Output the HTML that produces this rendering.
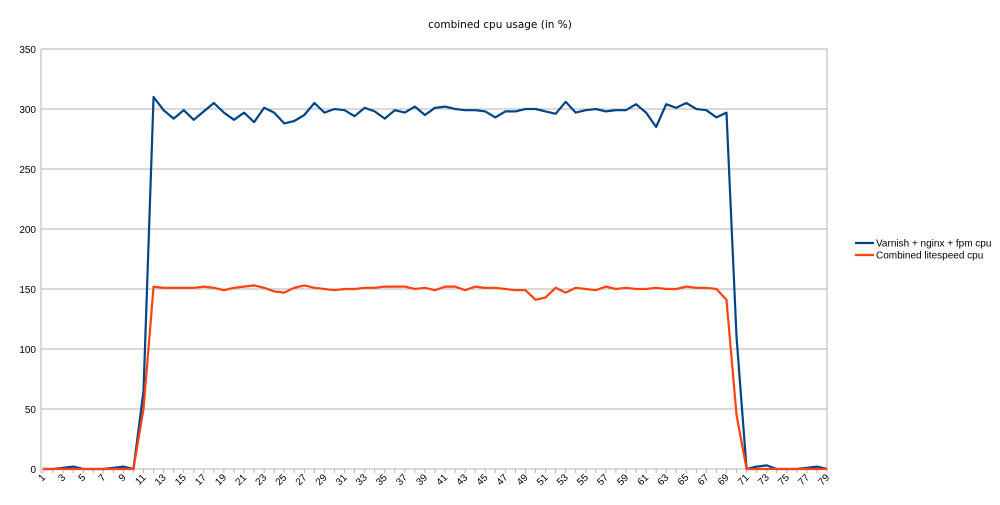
<!DOCTYPE html>
<html><head><meta charset="utf-8"><style>
body{margin:0;background:#fff;font-family:"Liberation Sans","DejaVu Sans",sans-serif}
</style></head><body>
<svg id="c" width="1000" height="500" xmlns="http://www.w3.org/2000/svg" font-family="Liberation Sans, DejaVu Sans, sans-serif">
<rect width="1000" height="500" fill="#fff"/>
<text x="500" y="28" font-size="10.5" font-family="DejaVu Sans, sans-serif" text-anchor="middle" fill="#000">combined cpu usage (in %)</text>
<g id="grid"></g>
<g id="lab"></g>
<polyline id="blue" fill="none" stroke="#004586" stroke-width="2.2" stroke-linejoin="round"/>
<polyline id="red" fill="none" stroke="#ff420e" stroke-width="2.2" stroke-linejoin="round"/>
<line x1="855" y1="243" x2="874" y2="243" stroke="#004586" stroke-width="2.2"/>
<text x="876" y="246.5" font-size="10">Varnish + nginx + fpm cpu</text>
<line x1="855" y1="255" x2="874" y2="255" stroke="#ff420e" stroke-width="2.2"/>
<text x="876" y="258.5" font-size="10">Combined litespeed cpu</text>
</svg>
<script>
var B=[0,0,1,2,0,0,0,1,2,0,65,310,299,292,299,291,298,305,297,291,297,289,301,297,288,290,295,305,297,300,299,294,301,298,292,299,297,302,295,301,302,300,299,299,298,293,298,298,300,300,298,296,306,297,299,300,298,299,299,304,297,285,304,301,305,300,299,293,297,110,0,2,3,0,0,0,1,2,0];
var R=[0,0,0,0,0,0,0,0,0,0,50,152,151,151,151,151,152,151,149,151,152,153,151,148,147,151,153,151,150,149,150,150,151,151,152,152,152,150,151,149,152,152,149,152,151,151,150,149,149,141,143,151,147,151,150,149,152,150,151,150,150,151,150,150,152,151,151,150,141,45,0,0,0,0,0,0,0,0,0];
var x0=43,dx=(827-43)/78;function X(i){return x0+i*dx}function Y(v){return 469-v*1.2}
var ns="http://www.w3.org/2000/svg",g=document.getElementById('grid'),l=document.getElementById('lab');
function el(t,a,p){var e=document.createElementNS(ns,t);for(var k in a)e.setAttribute(k,a[k]);p.appendChild(e);return e}
for(var v=0;v<=350;v+=50){var y=Y(v);el('line',{x1:41,x2:827,y1:y,y2:y,stroke:'#b3b3b3','stroke-width':1},g);var t=el('text',{x:36,y:y+4,'font-size':10,'text-anchor':'end'},l);t.textContent=v;}
el('line',{x1:41,x2:41,y1:49,y2:473,stroke:'#b3b3b3'},g);
el('line',{x1:827,x2:827,y1:49,y2:469,stroke:'#b3b3b3'},g);
for(var i=0;i<79;i++){var x=X(i);el('line',{x1:x,x2:x,y1:469,y2:473,stroke:'#b3b3b3'},g);
if(i%2==0){var t=el('text',{x:x+3,y:478,'font-size':10,'text-anchor':'end',transform:'rotate(-45 '+(x+3)+' 478)'},l);t.textContent=i+1;}}
document.getElementById('blue').setAttribute('points',B.map(function(v,i){return X(i)+','+Y(v)}).join(' '));
document.getElementById('red').setAttribute('points',R.map(function(v,i){return X(i)+','+Y(v)}).join(' '));
</script>
</body></html>
